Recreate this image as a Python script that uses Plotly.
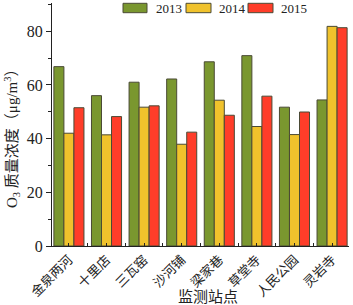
import plotly.graph_objects as go

stations = ["金泉两河", "十里店", "三瓦窑", "沙河铺", "梁家巷", "草堂寺", "人民公园", "灵岩寺"]
years = ["2013", "2014", "2015"]
v2013 = [66.8, 56.0, 61.0, 62.2, 68.6, 70.9, 51.7, 54.4]
v2014 = [42.0, 41.4, 51.7, 37.9, 54.3, 44.5, 41.5, 81.8]
v2015 = [51.5, 48.2, 52.2, 42.4, 48.7, 55.8, 49.9, 81.3]
yticks = [0, 20, 40, 60, 80]

colors = ["#7A972F", "#F0C22C", "#FF3D29"]
series = [v2013, v2014, v2015]
xpos = list(range(len(stations)))

SERIF = "Liberation Serif, Times New Roman, Noto Sans CJK SC, serif"
CJK = "Noto Sans CJK SC, serif"

fig = go.Figure()
for name, vals, c in zip(years, series, colors):
    fig.add_trace(go.Bar(x=xpos, y=vals, name=name, marker=dict(color=c, line=dict(color="#4A4A35", width=1)),
                         showlegend=False, hoverinfo="skip"))

W, H = 353, 305
ml, mr, mt, mb = 52, 4, 3, 59
pw, ph = W - ml - mr, H - mt - mb

def px2x(px):
    return (px - ml) / pw

def py2y(py):
    return (H - mb - py) / ph

shapes = []
annotations = []
leg = [(123, 147, 154), (186, 211, 217), (248, 273, 279)]
for (x0, x1, tx), name, c in zip(leg, years, colors):
    shapes.append(dict(type="rect", xref="paper", yref="paper", x0=px2x(x0), x1=px2x(x1),
                       y0=py2y(12.7), y1=py2y(3.3), fillcolor=c, line=dict(color="#4A4A35", width=1)))
    annotations.append(dict(xref="paper", yref="paper", x=px2x(tx), y=py2y(8), text=name, showarrow=False,
                            xanchor="left", yanchor="middle", font=dict(family=SERIF, size=13, color="#222")))

annotations.append(dict(xref="paper", yref="paper", x=px2x(208), y=py2y(295), text="监测站点", showarrow=False,
                        xanchor="center", yanchor="middle", font=dict(family=CJK, size=15, color="#222")))
annotations.append(dict(xref="paper", yref="paper", x=px2x(12), y=py2y(135),
                        text="O<sub>3</sub> 质量浓度（μg/m<sup>3</sup>）", showarrow=False, textangle=-90,
                        xanchor="center", yanchor="middle", font=dict(family=SERIF + ", " + CJK, size=15, color="#222")))

fig.update_layout(
    width=W, height=H,
    margin=dict(l=ml, r=mr, t=mt, b=mb, autoexpand=False),
    plot_bgcolor="white", paper_bgcolor="white",
    barmode="group", bargap=0.2, bargroupgap=0,
    shapes=shapes, annotations=annotations,
    font=dict(family=SERIF, color="#222"),
    hovermode=False,
)
fig.update_xaxes(
    range=[-0.45, 7.45], tickmode="array", tickvals=xpos, ticktext=stations, tickangle=-45,
    tickfont=dict(family=CJK, size=13, color="#222"), automargin=False,
    showline=True, linecolor="#222", linewidth=1, ticks="inside", ticklen=3, tickcolor="#222",
    minor=dict(tickmode="array", tickvals=[i + 0.5 for i in xpos[:-1]], ticks="inside", ticklen=3, tickcolor="#222"),
    showgrid=False, zeroline=False,
)
fig.update_yaxes(
    range=[0, 90.5], tickvals=yticks, tickfont=dict(family=SERIF, size=16, color="#222"), automargin=False,
    showline=True, linecolor="#222", linewidth=1, ticks="outside", ticklen=5, tickcolor="#222",
    minor=dict(dtick=10, tick0=0, ticks="outside", ticklen=3, tickcolor="#222"),
    showgrid=False, zeroline=False,
)
fig.write_html("out.html", config={"displayModeBar": False},
               post_script="document.body.style.margin='0';document.body.style.overflow='hidden';")
